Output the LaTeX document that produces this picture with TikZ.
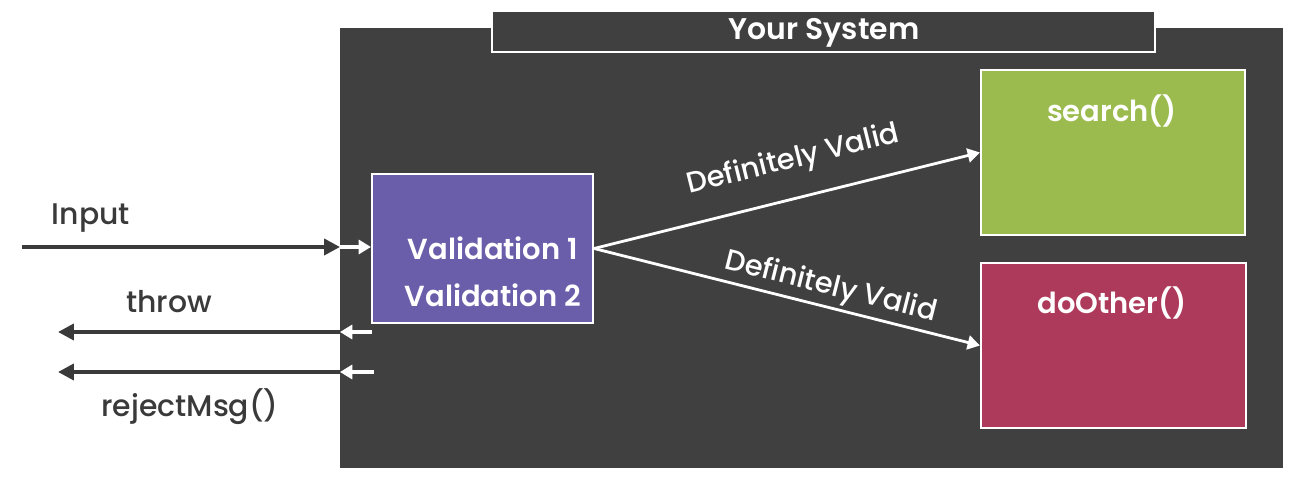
\documentclass[tikz,border=0pt]{standalone}
\usepackage{fontspec}
\setmainfont{Poppins}[BoldFont={Poppins SemiBold}]
\newfontfamily\mediumfont{Poppins Medium}
\usetikzlibrary{arrows.meta}
\definecolor{panelgray}{HTML}{404040}
\definecolor{arrowgray}{HTML}{3A3A3A}
\definecolor{valpurple}{HTML}{6A5EAB}
\definecolor{searchgreen}{HTML}{9BBB4F}
\definecolor{othercrimson}{HTML}{AD3A5A}
\begin{document}
\begin{tikzpicture}[x=0.02cm,y=-0.02cm,
  box/.style={draw=white,line width=1.2pt,inner sep=0pt},
  box text/.style={text=white,font=\fontsize{16.5}{19}\selectfont\bfseries},
  dark arrow/.style={draw=arrowgray,line width=2.2pt,-{Triangle[length=9pt,width=9pt]}},
  white arrow/.style={draw=white,line width=1.8pt,-{Triangle[length=7pt,width=8pt]}},
  side label/.style={text=arrowgray,font=\fontsize{17}{20}\selectfont\mediumfont},
  valid label/.style={text=white,font=\fontsize{16.5}{19}\selectfont\mediumfont,sloped,inner sep=1pt}]
  \useasboundingbox (0,0) rectangle (1294,482);
  % the system panel and its title
  \fill[panelgray] (340,28) rectangle (1283,468);
  \node[box,fill=panelgray,minimum width=663*0.02cm,minimum height=41*0.02cm] (title) at (823.5,31.5) {};
  \node[box text,font=\fontsize{17}{19}\selectfont\bfseries] (titletext) at (824,33) {Your System};
  % boxes
  \node[box,fill=valpurple,minimum width=221*0.02cm,minimum height=149*0.02cm] (val) at (482.5,248.5) {};
  \node[box,fill=searchgreen,minimum width=264*0.02cm,minimum height=165*0.02cm] (search) at (1113,152.5) {};
  \node[box,fill=othercrimson,minimum width=265*0.02cm,minimum height=165*0.02cm] (other) at (1113.5,345.5) {};
  \node[box text] (val1) at (493,248) {Validation 1};
  \node[box text] (val2) at (493,295) {Validation 2};
  \node[box text] (searchtext) at (1112,111) {search()};
  \node[box text] (othertext) at (1112,303) {doOther()};
  % edge of the panel
  \coordinate (inA) at (22,247);
  \coordinate (inB) at (340,247);
  \coordinate (thA) at (372,332);
  \coordinate (thB) at (340,332);
  \coordinate (thC) at (58,332);
  \coordinate (rjA) at (374,372);
  \coordinate (rjB) at (340,372);
  \coordinate (rjC) at (58,372);
  \draw[dark arrow] (inA) -- (inB);
  \draw[white arrow] (inB) -- (val.west |- inB);
  \draw[white arrow] (thA) -- (thB);
  \draw[dark arrow] (thB) -- (thC);
  \draw[white arrow] (rjA) -- (rjB);
  \draw[dark arrow] (rjB) -- (rjC);
  \node[side label] (inlbl) at (91,218) {Input};
  \node[side label] (thlbl) at (169,302) {throw};
  \node[side label] (rjlbl) at (190,407) {rejectMsg()};
  % outcomes
  \draw[white arrow,line width=1.6pt] (val.east) -- (search.west)
    node[valid label,pos=0.54,above=11pt] {Definitely Valid};
  \draw[white arrow,line width=1.6pt] (val.east) -- (other.west)
    node[valid label,pos=0.6,above=1pt] {Definitely Valid};
\end{tikzpicture}
\end{document}
